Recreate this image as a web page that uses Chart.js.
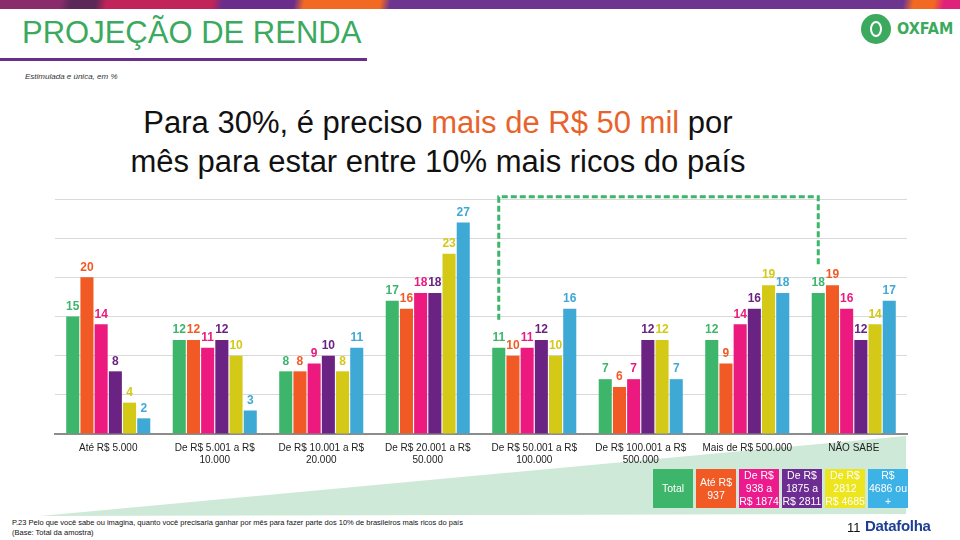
<!DOCTYPE html>
<html>
<head>
<meta charset="utf-8">
<script src="https://cdn.jsdelivr.net/npm/chart.js@4"></script>
<style>
  body { margin: 0; width: 960px; height: 540px; position: relative; overflow: hidden; background: #fff; font-family: "Liberation Sans", Arial, sans-serif; }
  #strip { position: absolute; left: 0; top: 0; width: 960px; height: 9px;
    background: linear-gradient(100deg, #8a2c6c 0px, #8a2c6c 60px, #5c2858 70px, #5c2858 95px, #c02458 105px, #c02458 210px, #6a2d8c 220px, #6a2d8c 290px, #f26a21 300px, #f26a21 375px, #6d3490 385px, #6d3490 890px, #f26a21 900px, #f26a21 920px, #e0237a 930px); }
  #head { position: absolute; left: 22px; top: 15px; font-size: 31px; color: #3baa5e; letter-spacing: 0; }
  #rule { position: absolute; left: 0; top: 58px; width: 367px; height: 3px; background: #6b2d8a; }
  #sub { position: absolute; left: 25px; top: 72px; font-size: 8px; font-style: italic; color: #333; }
  #title { position: absolute; left: 0; width: 876px; top: 103px; text-align: center; font-size: 31px; line-height: 39px; color: #111; }
  #title span { color: #e8632b; }
  #wedge { position: absolute; left: 0; top: 0; width: 960px; height: 540px; background: #cfe9d8; clip-path: polygon(40px 516px, 906px 436px, 906px 514px); }
  #wrap { position: absolute; left: 0; top: 185px; width: 960px; height: 291px; }
  #legend { position: absolute; left: 653px; top: 469px; display: flex; gap: 3px; }
  #legend div { width: 40px; height: 39px; color: #fff; font-size: 10.5px; line-height: 13px; text-align: center; display: flex; align-items: center; justify-content: center; }
  #foot { position: absolute; left: 12px; top: 518px; font-size: 7.5px; line-height: 10px; color: #111; }
  #page { position: absolute; left: 847px; top: 520px; font-size: 13px; color: #111; }
  #dfolha { position: absolute; left: 865px; top: 517px; font-size: 15px; font-weight: bold; color: #1d3e92; letter-spacing: -0.3px; }
  #logo { position: absolute; left: 861px; top: 14px; width: 30px; height: 30px; border-radius: 50%; background: #3baa5e; }
  #logo div { position: absolute; left: 9px; top: 7px; width: 8px; height: 12px; border: 2.5px solid #fff; border-radius: 50%; }
  #oxfam { position: absolute; left: 897px; top: 19px; font-size: 16px; font-weight: bold; color: #3baa5e; font-family: "Liberation Sans Narrow", "DejaVu Sans Condensed", sans-serif; }
</style>
</head>
<body>
<div id="strip"></div>
<div id="head">PROJEÇÃO DE RENDA</div>
<div id="rule"></div>
<div id="sub">Estimulada e única, em %</div>
<div id="logo"><div></div></div>
<div id="oxfam">OXFAM</div>
<div id="title">Para 30%, é preciso <span>mais de R$ 50 mil</span> por<br>mês para estar entre 10% mais ricos do país</div>
<div id="wedge"></div>
<div id="wrap"><canvas id="MyChart"></canvas></div>
<div id="legend"></div>
<div id="foot">P.23 Pelo que você sabe ou imagina, quanto você precisaria ganhar por mês para fazer parte dos 10% de brasileiros mais ricos do país<br>(Base: Total da amostra)</div>
<div id="page">11</div>
<div id="dfolha">Datafolha</div>
<script>
// faixas de resposta
const categories = [
    'Até R$ 5.000',
    ['De R$ 5.001 a R$', '10.000'],
    ['De R$ 10.001 a R$', '20.000'],
    ['De R$ 20.001 a R$', '50.000'],
    ['De R$ 50.001 a R$', '100.000'],
    ['De R$ 100.001 a R$', '500.000'],
    'Mais de R$ 500.000',
    'NÃO SABE'
];

// séries (renda familiar)
const seriesNames = ['Total', 'Até R$ 937', 'De R$ 938 a R$ 1874', 'De R$ 1875 a R$ 2811', 'De R$ 2812 a R$ 4685', 'R$ 4686 ou +'];
const legendLines = [['Total'], ['Até R$', '937'], ['De R$', '938 a', 'R$ 1874'], ['De R$', '1875 a', 'R$ 2811'], ['De R$', '2812', 'R$ 4685'], ['R$', '4686 ou', '+']];
const seriesColors = ['#3db56a', '#f15a24', '#ec1a7e', '#6a2382', '#d4c916', '#3fa9d6'];
const legendColors = ['#3db56a', '#f15a24', '#ec1a8c', '#6d2c91', '#ede51d', '#3db2e6'];

const total = [15, 12, 8, 17, 11, 7, 12, 18];
const ate937 = [20, 12, 8, 16, 10, 6, 9, 19];
const ate1874 = [14, 11, 9, 18, 11, 7, 14, 16];
const ate2811 = [8, 12, 10, 18, 12, 12, 16, 12];
const ate4685 = [4, 10, 8, 23, 10, 12, 19, 14];
const acima4686 = [2, 3, 11, 27, 16, 7, 18, 17];
const seriesValues = [total, ate937, ate1874, ate2811, ate4685, acima4686];

// colchete tracejado (de "50.001 a 100.000" até "NÃO SABE")
const bracketFrom = 4, bracketTo = 7;
const bracketTop = 30.3, bracketLeftEnd = 14.6, bracketRightEnd = 21.4;

// legenda em caixas coloridas
const legend = document.getElementById('legend');
legendLines.forEach((lines, i) => {
    const box = document.createElement('div');
    box.style.background = legendColors[i];
    box.innerHTML = lines.join('<br>');
    legend.appendChild(box);
});

// rótulos de valor acima das barras
const valueLabels = {
    id: 'valueLabels',
    afterDatasetsDraw(chart) {
        const ctx = chart.ctx;
        ctx.save();
        ctx.font = 'bold 12px "Liberation Sans", Arial, sans-serif';
        ctx.textAlign = 'center';
        ctx.textBaseline = 'bottom';
        chart.data.datasets.forEach((ds, i) => {
            ctx.fillStyle = ds.backgroundColor;
            chart.getDatasetMeta(i).data.forEach((bar, j) => {
                ctx.fillText(ds.data[j], bar.x, bar.y - 4);
            });
        });
        ctx.restore();
    }
};

const bracket = {
    id: 'bracket',
    afterDraw(chart) {
        const ctx = chart.ctx;
        const y = chart.scales.y;
        const bars = chart.getDatasetMeta(0).data;
        const x1 = bars[bracketFrom].x, x2 = bars[bracketTo].x;
        ctx.save();
        ctx.strokeStyle = '#3db56a';
        ctx.lineWidth = 3;
        ctx.setLineDash([6, 3]);
        ctx.beginPath();
        ctx.moveTo(x1, y.getPixelForValue(bracketLeftEnd));
        ctx.lineTo(x1, y.getPixelForValue(bracketTop));
        ctx.lineTo(x2, y.getPixelForValue(bracketTop));
        ctx.lineTo(x2, y.getPixelForValue(bracketRightEnd));
        ctx.stroke();
        ctx.restore();
    }
};

const ctx = document.getElementById('MyChart').getContext('2d');
new Chart(ctx, {
    type: 'bar',
    data: {
        labels: categories,
        datasets: seriesValues.map((vals, i) => ({
            label: seriesNames[i],
            data: vals,
            backgroundColor: seriesColors[i],
            barPercentage: 0.92,
            categoryPercentage: 0.8
        }))
    },
    options: {
        responsive: true,
        maintainAspectRatio: false,
        animation: false,
        layout: { padding: { left: 55, right: 53, top: 14, bottom: 2 } },
        plugins: { legend: { display: false }, tooltip: { enabled: false } },
        scales: {
            x: {
                grid: { display: false, drawTicks: false },
                border: { color: '#8c8c8c', width: 2 },
                ticks: { color: '#222', font: { size: 10, family: '"Liberation Sans", Arial, sans-serif' }, padding: 8, maxRotation: 0, autoSkip: false }
            },
            y: {
                min: 0, max: 30,
                ticks: { display: false, stepSize: 5 },
                grid: { color: '#d9d9d9', drawTicks: false },
                border: { display: false }
            }
        }
    },
    plugins: [valueLabels, bracket]
});
</script>
</body>
</html>
